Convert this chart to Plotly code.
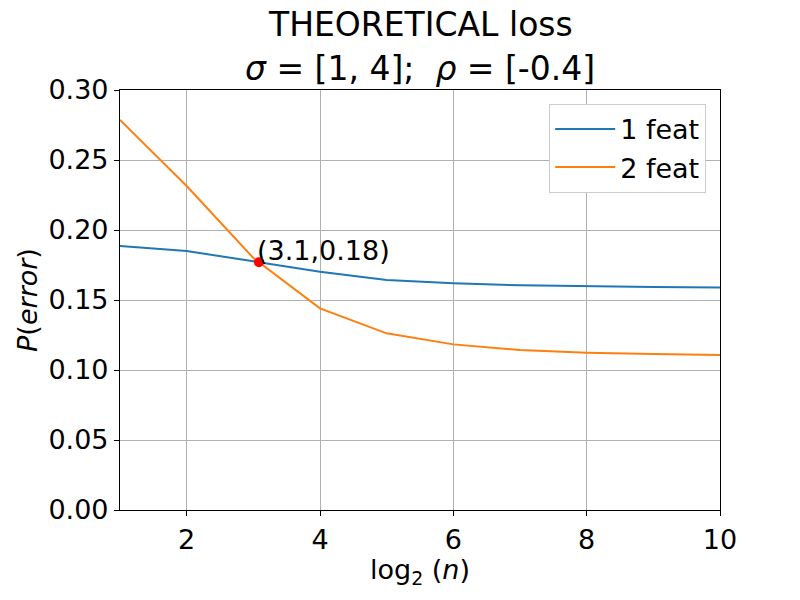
import numpy as np
import plotly.graph_objects as go

log2n = [1, 2, 3, 4, 5, 6, 7, 8, 9, 10]
feat1 = [0.1886, 0.1850, 0.1776, 0.1702, 0.1643, 0.1619, 0.1605, 0.1596, 0.1592, 0.1589]
feat2 = [0.2786, 0.2314, 0.1800, 0.1440, 0.1262, 0.1183, 0.1143, 0.1124, 0.1114, 0.1107]
names = ["1 feat", "2 feat"]
colors = ["#1f77b4", "#ff7f0e"]

# intersection of the two curves (linear interpolation)
x_arr = np.array(log2n, float)
d = np.array(feat2) - np.array(feat1)
ix, iy = None, None
for i in range(len(d) - 1):
    if d[i] * d[i + 1] <= 0:
        t = d[i] / (d[i] - d[i + 1])
        ix = x_arr[i] + t * (x_arr[i + 1] - x_arr[i])
        iy = feat1[i] + t * (feat1[i + 1] - feat1[i])
        break

FONT = "DejaVu Sans"
fig = go.Figure()
for ys, nm, c in zip([feat1, feat2], names, colors):
    fig.add_trace(go.Scatter(x=log2n, y=ys, mode="lines", name=nm,
                             line=dict(color=c, width=2)))
fig.add_trace(go.Scatter(x=[ix], y=[iy], mode="markers", showlegend=False,
                         marker=dict(color="red", size=10)))
fig.add_annotation(x=ix, y=iy, xref="x", yref="y", text=f"({ix:.1f},{iy:.2f})",
                   showarrow=False, xanchor="left", yanchor="bottom",
                   xshift=-4, yshift=-6, font=dict(size=27, color="black", family=FONT))

fig.add_annotation(x=0.5, y=1.155, xref="paper", yref="paper", text="THEORETICAL loss",
                   showarrow=False, xanchor="center", yanchor="middle",
                   font=dict(size=33, color="black", family=FONT))
fig.add_annotation(x=0.5, y=1.052, xref="paper", yref="paper",
                   text="<i>σ</i> = [1, 4];&nbsp;&nbsp;<i>ρ</i> = [-0.4]",
                   showarrow=False, xanchor="center", yanchor="middle",
                   font=dict(size=33, color="black", family=FONT))

axis_common = dict(showline=True, linecolor="black", linewidth=1.2, mirror=True,
                   ticks="outside", ticklen=5, tickcolor="black", tickwidth=1,
                   showgrid=True, gridcolor="#b0b0b0", gridwidth=1, zeroline=False,
                   tickfont=dict(size=27, color="black", family=FONT))
fig.update_xaxes(range=[1, 10], tickvals=[2, 4, 6, 8, 10],
                 title=dict(text="log<sub>2</sub>&nbsp;(<i>n</i>)", font=dict(size=27, color="black", family=FONT), standoff=6),
                 **axis_common)
fig.update_yaxes(range=[0, 0.30], tickvals=[0, 0.05, 0.10, 0.15, 0.20, 0.25, 0.30], tickformat=".2f",
                 title=dict(text="<i>P</i>(<i>error</i>)", font=dict(size=27, color="black", family=FONT), standoff=2),
                 **axis_common)

fig.update_layout(width=800, height=600, margin=dict(l=120, r=80, t=90, b=90),
                  plot_bgcolor="white", paper_bgcolor="white",
                  font=dict(family=FONT, color="black"),
                  legend=dict(x=0.977, y=0.967, xanchor="right", yanchor="top",
                              bgcolor="white", bordercolor="#cccccc", borderwidth=1,
                              font=dict(size=27, color="black", family=FONT),
                              itemwidth=60, tracegroupgap=4))
fig.write_html("out.html")
